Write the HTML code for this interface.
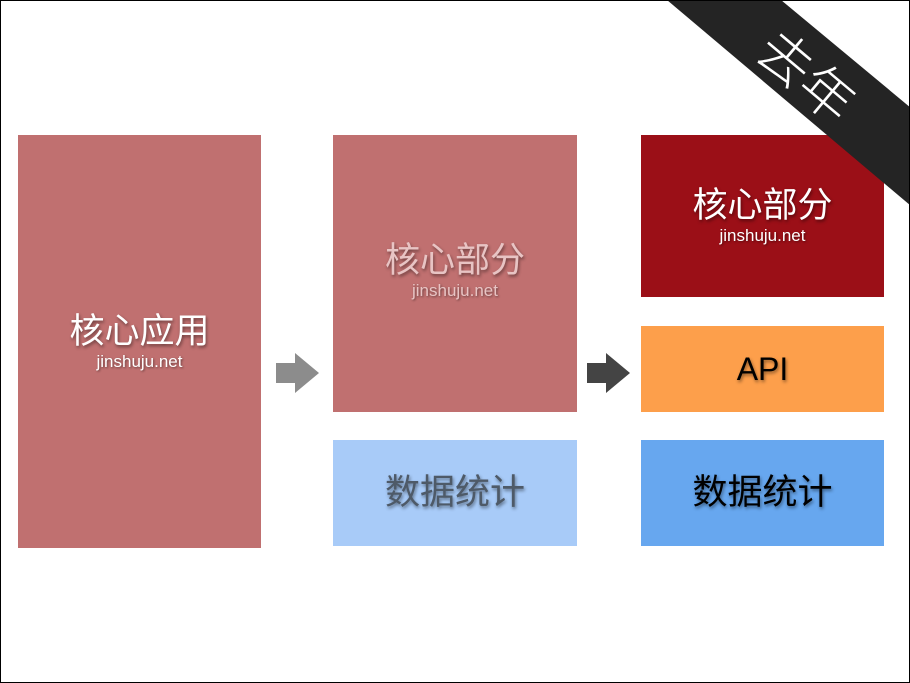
<!DOCTYPE html>
<html><head><meta charset="utf-8"><style>
html,body{margin:0;padding:0;background:#fff}
#f{position:relative;width:908px;height:681px;border:1px solid #000;overflow:hidden;font-family:"Liberation Sans","Noto Sans CJK SC",sans-serif}
.b{position:absolute;display:flex;flex-direction:column;align-items:center;justify-content:center;text-align:center}
.cn{font-size:35px;line-height:40px;text-shadow:1px 2px 3px rgba(0,0,0,.45)}
.en{font-size:17px;line-height:20px;text-shadow:1px 1px 2px rgba(0,0,0,.45)}
</style></head><body><div id="f">
<div class="b" style="left:17px;top:134px;width:243px;height:413px;background:#c07070;color:#fff"><div class="cn">核心应用</div><div class="en">jinshuju.net</div></div>
<div class="b" style="left:332px;top:134px;width:244px;height:277px;background:#c07070;color:#e8c4c4;justify-content:flex-start"><div class="cn" style="margin-top:106px">核心部分</div><div class="en">jinshuju.net</div></div>
<div class="b" style="left:332px;top:439px;width:244px;height:106px;background:#a8cbf8;color:#4e5a68"><div class="cn">数据统计</div></div>
<div class="b" style="left:640px;top:134px;width:243px;height:162px;background:#9b0f17;color:#fff"><div class="cn">核心部分</div><div class="en">jinshuju.net</div></div>
<div class="b" style="left:640px;top:325px;width:243px;height:86px;background:#fd9f4b;color:#000"><div class="cn" style="font-size:32px">API</div></div>
<div class="b" style="left:640px;top:439px;width:243px;height:106px;background:#67a7ef;color:#000"><div class="cn">数据统计</div></div>
<svg style="position:absolute;left:0;top:0" width="910" height="683">
<polygon points="275,362 294,362 294,352 318,372 294,392 294,382 275,382" fill="#8c8c8c"/>
<polygon points="586,362 605,362 605,352 629,372 605,392 605,382 586,382" fill="#444"/>
<polygon points="666,-1 780,-1 910,107 910,205" fill="#242424"/>
<text x="808" y="72" transform="rotate(40 808 72)" fill="#fff" font-size="54" font-weight="300" text-anchor="middle" dominant-baseline="central" font-family="Noto Sans CJK SC, sans-serif">去年</text>
</svg>
</div></body></html>
